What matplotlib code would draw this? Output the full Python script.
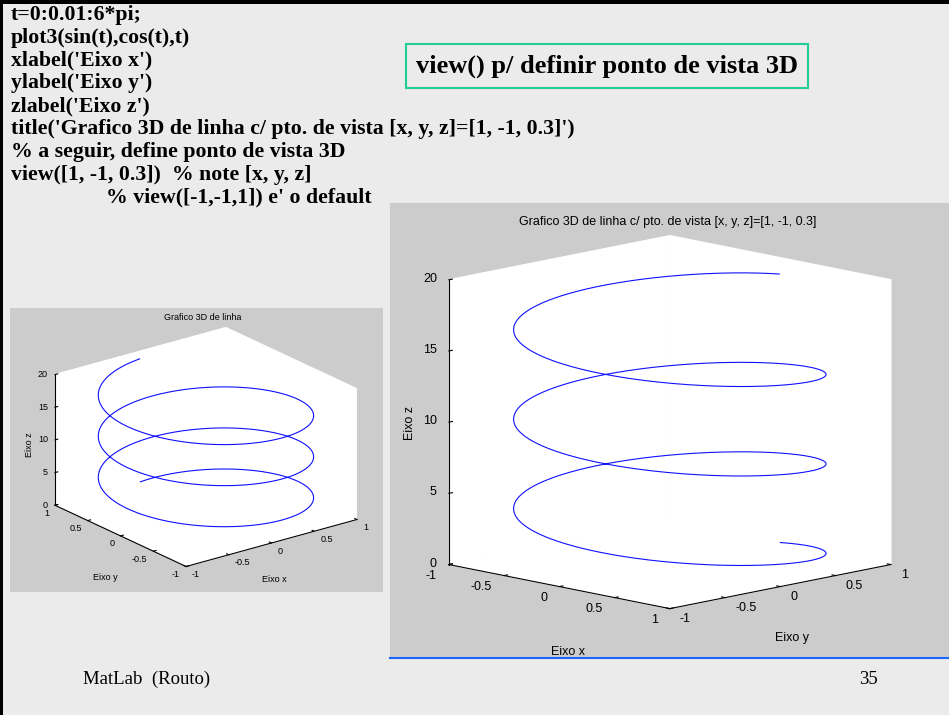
"""
Slide: helix drawn with plot3 and a custom 3D viewpoint.
"""
import numpy as np
import matplotlib.pyplot as plt
from matplotlib.patches import Rectangle
from mpl_toolkits.mplot3d import proj3d

W, H = 949, 715

# helix parameters, as given by t=0:0.01:6*pi
t_start, t_step, t_stop = 0.0, 0.01, 6 * np.pi

code_lines = [
    "t=0:0.01:6*pi;",
    "plot3(sin(t),cos(t),t)",
    "xlabel('Eixo x')",
    "ylabel('Eixo y')",
    "zlabel('Eixo z')",
    "title('Grafico 3D de linha c/ pto. de vista [x, y, z]=[1, -1, 0.3]')",
    "% a seguir, define ponto de vista 3D",
    "view([1, -1, 0.3])  % note [x, y, z]",
    "% view([-1,-1,1]) e' o default",
]
code_indent = [11, 11, 11, 11, 11, 11, 11, 11, 106]

axis_ticks = [-1, -0.5, 0, 0.5, 1]
z_ticks = [0, 5, 10, 15, 20]
tick_labels = ["-1", "-0.5", "0", "0.5", "1"]
z_tick_labels = ["0", "5", "10", "15", "20"]

# (elev, azim) in matplotlib terms; MATLAB's stretch-to-fill flattens the
# default az=-37.5/el=30 view, so a lower elevation is used there
view_default = (21, -127.5)
view_custom = (11.5, -45)   # view([1, -1, 0.3])

BG = "#ebebeb"
PANEL = "#cccccc"
LINE = "#1010ff"


def px(x, y):
    """pixel coords (from top-left) -> figure fraction"""
    return x / W, 1 - y / H


def box(x0, y0, x1, y1):
    l, t = px(x0, y0)
    r, b = px(x1, y1)
    return [l, b, r - l, t - b]


def panel(x0, y0, x1, y1):
    ax = fig.add_axes(box(x0, y0, x1, y1), zorder=-5)
    ax.set_facecolor(PANEL)
    ax.set_xticks([])
    ax.set_yticks([])
    for s in ax.spines.values():
        s.set_visible(False)
    return ax


def helix_axes(rect, view, aspect, zoom, zpos="default"):
    ax = fig.add_axes(rect, projection="3d")
    ax.set_proj_type("ortho")
    ax.set_facecolor("none")
    t = np.arange(t_start, t_stop, t_step)
    ax.plot(np.sin(t), np.cos(t), t, color=LINE, lw=0.8)
    ax.set_xlim(-1, 1)
    ax.set_ylim(-1, 1)
    ax.set_zlim(0, 20)
    ax.set_xticks(axis_ticks)
    ax.set_yticks(axis_ticks)
    ax.set_zticks(z_ticks)
    ax.grid(False)
    for a in (ax.xaxis, ax.yaxis, ax.zaxis):
        a.set_ticklabels([])
        a.set_pane_color((1, 1, 1, 1))
        a.pane.set_edgecolor("white")
        a.line.set_color("black")
        a.line.set_linewidth(0.8)
        a.set_tick_params(colors="black", width=0.6)
        a._axinfo["tick"]["inward_factor"] = 0.0
        a._axinfo["tick"]["outward_factor"] = 0.2
    if zpos != "default":
        ax.zaxis.set_ticks_position(zpos)
    ax.set_box_aspect(aspect, zoom=zoom)
    ax.view_init(elev=view[0], azim=view[1])
    return ax


def tick_text(ax, xs, ys, zs, labels, dx, dy, ha, fs):
    """MATLAB-style tick labels, offset in pixels from the projected tick"""
    x2, y2, _ = proj3d.proj_transform(np.asarray(xs, float), np.asarray(ys, float),
                                      np.asarray(zs, float), ax.M)
    pts = ax.transData.transform(np.column_stack([x2, y2]))
    for (x, y), s in zip(pts, labels):
        fig.text((x + dx) / W, (y - dy) / H, s, fontsize=fs,
                 family="Liberation Sans", ha=ha, va="center")


fig = plt.figure(figsize=(W / 100, H / 100), dpi=100)
fig.patch.set_facecolor(BG)

# slide frame, top and left edges
fig.add_artist(Rectangle((0, 1 - 4 / H), 1, 4 / H, transform=fig.transFigure,
                         color="black", lw=0))
fig.add_artist(Rectangle((0, 0), 3 / W, 1, transform=fig.transFigure,
                         color="black", lw=0))

for i, line in enumerate(code_lines):
    fig.text(*px(code_indent[i], 15 + i * 22.8), line, family="Liberation Serif",
             weight="bold", fontsize=15.7, va="center", ha="left")

fig.text(*px(607, 66), "view() p/ definir ponto de vista 3D",
         family="Liberation Serif", weight="bold", fontsize=19,
         ha="center", va="center",
         bbox=dict(boxstyle="square,pad=0.38", fc="none", ec="#22cc99", lw=1.5))

fig.text(*px(83, 679), "MatLab  (Routo)", family="Liberation Serif",
         fontsize=13.5, va="center", ha="left")
fig.text(*px(868, 679), "35", family="Liberation Serif",
         fontsize=13.5, va="center", ha="center")

# grey figure panels
panel(10, 308, 383, 592)
panel(390, 203, 949, 658)
fig.add_artist(plt.Line2D([390 / W, 1], [1 - 658 / H] * 2,
                          transform=fig.transFigure, color="#1a66ff", lw=1.5))

# default view
ax1 = helix_axes(box(32.5, 323, 372.5, 578), view_default, (1, 1, 0.65), 1.276)
fig.text(*px(203, 317), "Grafico 3D de linha", fontsize=6.5,
         family="Liberation Sans", ha="center", va="center")
fig.text(*px(30, 445), "Eixo z", fontsize=6.5, family="Liberation Sans",
         rotation=90, ha="center", va="center")
fig.text(*px(105, 577), "Eixo y", fontsize=6.5, family="Liberation Sans",
         ha="center", va="center")
fig.text(*px(274, 579), "Eixo x", fontsize=6.5, family="Liberation Sans",
         ha="center", va="center")

# view([1, -1, 0.3])
ax2 = helix_axes(box(422, 230, 907, 625), view_custom, (1, 1, 0.93), 1.3,
                 zpos="lower")
fig.text(*px(668, 222), "Grafico 3D de linha c/ pto. de vista [x, y, z]=[1, -1, 0.3]",
         fontsize=9, family="Liberation Sans", ha="center", va="center")
fig.text(*px(410, 423), "Eixo z", fontsize=9, family="Liberation Sans",
         rotation=90, ha="center", va="center")
fig.text(*px(568, 652), "Eixo x", fontsize=9, family="Liberation Sans",
         ha="center", va="center")
fig.text(*px(792, 638), "Eixo y", fontsize=9, family="Liberation Sans",
         ha="center", va="center")

# tick labels need the projection matrices, which exist after a draw
fig.canvas.draw()
n = len(axis_ticks)
tick_text(ax1, axis_ticks, [-1] * n, [0] * n, tick_labels, 6, 8, "left", 6.5)
tick_text(ax1, [-1] * n, axis_ticks, [0] * n, tick_labels, -6, 8, "right", 6.5)
tick_text(ax1, [-1] * 5, [1] * 5, z_ticks, z_tick_labels, -7, 0, "right", 6.5)

tick_text(ax2, axis_ticks, [-1] * n, [0] * n, tick_labels, -12, 11, "right", 9)
tick_text(ax2, [1] * n, axis_ticks, [0] * n, tick_labels, 10, 10, "left", 9)
tick_text(ax2, [-1] * 5, [-1] * 5, z_ticks, z_tick_labels, -12, -1, "right", 9)

fig.savefig("out.png", dpi=100, facecolor=BG)
